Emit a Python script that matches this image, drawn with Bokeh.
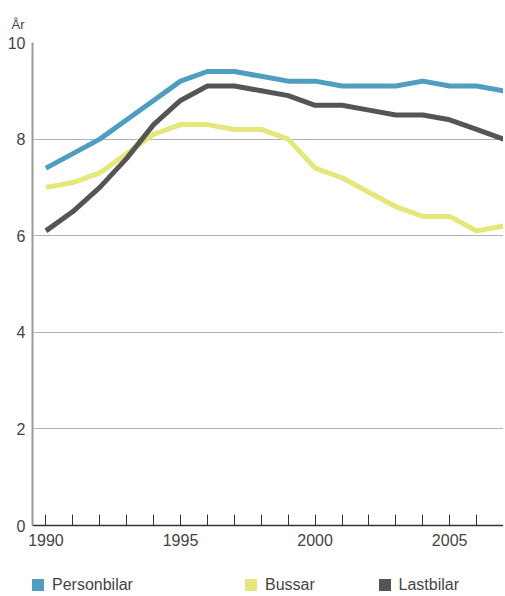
from bokeh.plotting import figure
from bokeh.models import ColumnDataSource, Range1d, FixedTicker, Legend, LegendItem, Title
from bokeh.layouts import column
from bokeh.embed import file_html
from bokeh.resources import INLINE

years = list(range(1990, 2008))
personbilar = [7.4, 7.7, 8.0, 8.4, 8.8, 9.2, 9.4, 9.4, 9.3, 9.2, 9.2, 9.1, 9.1, 9.1, 9.2, 9.1, 9.1, 9.0]
bussar = [7.0, 7.1, 7.3, 7.7, 8.1, 8.3, 8.3, 8.2, 8.2, 8.0, 7.4, 7.2, 6.9, 6.6, 6.4, 6.4, 6.1, 6.2]
lastbilar = [6.1, 6.5, 7.0, 7.6, 8.3, 8.8, 9.1, 9.1, 9.0, 8.9, 8.7, 8.7, 8.6, 8.5, 8.5, 8.4, 8.2, 8.0]
series_names = ["Personbilar", "Bussar", "Lastbilar"]
colors = ["#4f9ec1", "#e5e77a", "#555555"]
y_ticks = [0, 2, 4, 6, 8, 10]
x_label_years = [1990, 1995, 2000, 2005]

FONT = "Liberation Sans"
TXT = "#444444"
W = 503

p = figure(width=W, height=562, output_backend="svg", toolbar_location=None,
           x_range=Range1d(1989.5, 2007.0), y_range=Range1d(0, 10))
p.min_border = 0
p.min_border_left = 32
p.min_border_right = 0
p.min_border_top = 42
p.min_border_bottom = 37
p.outline_line_color = None

# grid
p.xgrid.grid_line_color = None
p.ygrid.ticker = FixedTicker(ticks=y_ticks)
p.ygrid.grid_line_color = "#b3b3b3"
p.ygrid.grid_line_width = 1

# x axis
p.xaxis.ticker = FixedTicker(ticks=years)
p.xaxis.major_label_overrides = {y: (str(y) if y in x_label_years else "") for y in years}
p.xaxis.major_tick_in = 11
p.xaxis.major_tick_out = 0
p.xaxis.minor_tick_line_color = None
p.xaxis.axis_line_color = "#333333"
p.xaxis.axis_line_width = 1.5
p.xaxis.major_tick_line_color = "#333333"
p.xaxis.major_tick_line_width = 1
p.xaxis.major_label_text_font = FONT
p.xaxis.major_label_text_font_size = "16px"
p.xaxis.major_label_text_color = TXT
p.xaxis.major_label_standoff = 8

# y axis
p.yaxis.ticker = FixedTicker(ticks=y_ticks)
p.yaxis.major_tick_in = 0
p.yaxis.major_tick_out = 0
p.yaxis.minor_tick_line_color = None
p.yaxis.axis_line_color = "#999999"
p.yaxis.axis_line_width = 2
p.yaxis.major_label_text_font = FONT
p.yaxis.major_label_text_font_size = "16px"
p.yaxis.major_label_text_color = TXT
p.yaxis.major_label_standoff = 7

# lines
for name, vals, col in zip(series_names, [personbilar, bussar, lastbilar], colors):
    src = ColumnDataSource(dict(x=years, y=vals))
    p.line("x", "y", source=src, line_color=col, line_width=5, line_join="round")

# unit label
p.add_layout(Title(text="År", align="left", offset=-21, standoff=22,
                   text_font=FONT, text_font_size="13px", text_color=TXT,
                   text_font_style="normal"), "above")

# legend figure
lf = figure(width=W, height=33, output_backend="svg", toolbar_location=None,
            x_range=Range1d(0, W), y_range=Range1d(0, 33),
            x_axis_location=None, y_axis_location=None)
lf.min_border = 0
lf.min_border_left = 0
lf.min_border_right = 0
lf.min_border_top = 0
lf.min_border_bottom = 0
lf.grid.visible = False
lf.outline_line_color = None
legend_x = [-2, 211, 344.5]
for name, col, lx in zip(series_names, colors, legend_x):
    r = lf.quad(left=[-20], right=[-10], top=[-10], bottom=[-20],
                fill_color=col, line_color=None)
    lg = Legend(items=[LegendItem(label=name, renderers=[r])], location=(lx, 1.5),
                padding=0, margin=0, spacing=0, border_line_color=None,
                background_fill_alpha=0, glyph_width=15, glyph_height=15,
                label_height=15, label_standoff=7,
                label_text_font=FONT, label_text_font_size="16px",
                label_text_color=TXT)
    lf.add_layout(lg, "center")

layout = column(p, lf, spacing=0)
open("out.html", "w").write(file_html(layout, INLINE))
